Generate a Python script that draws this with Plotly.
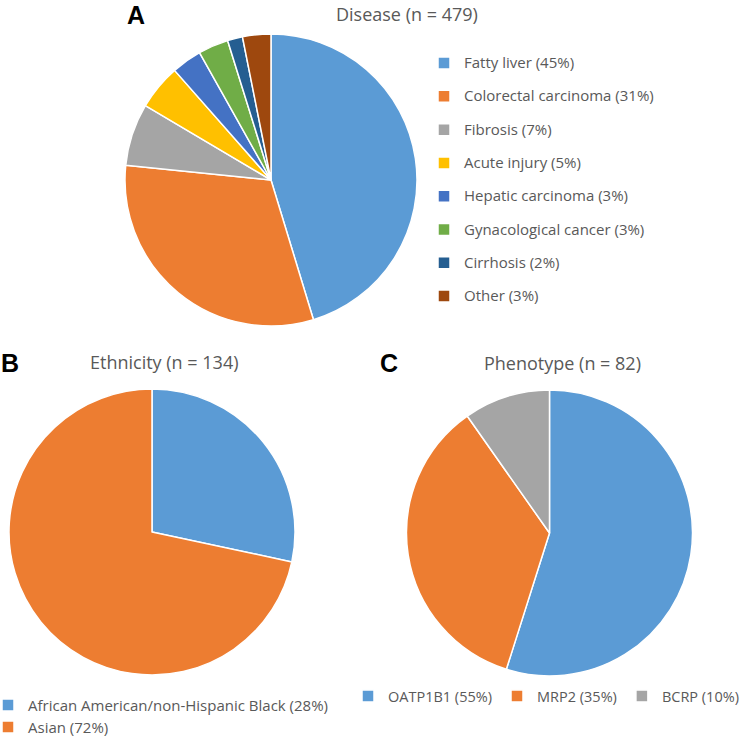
import plotly.graph_objects as go

# ---------------- data ----------------
disease_labels = ["Fatty liver (45%)", "Colorectal carcinoma (31%)", "Fibrosis (7%)",
                  "Acute injury (5%)", "Hepatic carcinoma (3%)", "Gynacological cancer (3%)",
                  "Cirrhosis (2%)", "Other (3%)"]
disease_counts = [217, 150, 33, 24, 16, 16, 8, 15]
disease_colors = ["#5B9BD5", "#ED7D31", "#A5A5A5", "#FFC000",
                  "#4472C4", "#70AD47", "#255E91", "#9E480E"]

ethnicity_labels = ["African American/non-Hispanic Black (28%)", "Asian (72%)"]
ethnicity_counts = [38, 96]
ethnicity_colors = ["#5B9BD5", "#ED7D31"]

phenotype_labels = ["OATP1B1 (55%)", "MRP2 (35%)", "BCRP (10%)"]
phenotype_counts = [45, 29, 8]
phenotype_colors = ["#5B9BD5", "#ED7D31", "#A5A5A5"]

titles = ["Disease (n = 479)", "Ethnicity (n = 134)", "Phenotype (n = 82)"]
panel_letters = ["A", "B", "C"]

# ---------------- styling ----------------
W, H = 743, 737
FONT = "Open Sans"
TXT = "#595959"
LEG_SIZE = 15


def lab(s, shift):
    return f'<span style="font-size:{LEG_SIZE}px;baseline-shift:{shift}px">{s}</span>'


def px_x(x):
    return x / W


def px_y(y):
    return 1 - y / H


fig = go.Figure()

fig.add_trace(go.Pie(
    labels=[lab(s, 3.8) for s in disease_labels], values=disease_counts,
    marker=dict(colors=disease_colors, line=dict(color="white", width=1.5)),
    sort=False, direction="clockwise", rotation=0, textinfo="none",
    domain=dict(x=[px_x(125), px_x(417)], y=[px_y(326), px_y(34)]),
    legend="legend", hoverinfo="label+value",
))
fig.add_trace(go.Pie(
    labels=[lab(s, 0.5) for s in ethnicity_labels], values=ethnicity_counts,
    marker=dict(colors=ethnicity_colors, line=dict(color="white", width=1.5)),
    sort=False, direction="clockwise", rotation=0, textinfo="none",
    domain=dict(x=[px_x(9), px_x(295)], y=[px_y(675), px_y(389)]),
    legend="legend2", hoverinfo="label+value",
))
fig.add_trace(go.Pie(
    labels=phenotype_labels, values=phenotype_counts,
    marker=dict(colors=phenotype_colors, line=dict(color="white", width=1.5)),
    sort=False, direction="clockwise", rotation=0, textinfo="none",
    domain=dict(x=[px_x(406), px_x(693)], y=[px_y(676), px_y(390)]),
    legend="legend3", hoverinfo="label+value",
))

legend_common = dict(bgcolor="rgba(0,0,0,0)", borderwidth=0, itemwidth=30,
                     xanchor="left", yanchor="top")

fig.update_layout(
    width=W, height=H, autosize=False,
    margin=dict(l=0, r=0, t=0, b=0, autoexpand=False),
    paper_bgcolor="white", plot_bgcolor="white",
    font=dict(family=FONT, color=TXT),
    showlegend=True,
    legend=dict(**legend_common, orientation="v",
                x=px_x(424), y=px_y(41.4),
                font=dict(family=FONT, size=23.3, color=TXT)),
    legend2=dict(**legend_common, orientation="v",
                 x=-12 / W, y=px_y(689),
                 font=dict(family=FONT, size=14.6, color=TXT)),
    legend3=dict(**legend_common, orientation="h",
                 x=px_x(348), y=px_y(680),
                 font=dict(family=FONT, size=14.5, color=TXT)),
)

# titles
title_pos = [(407, 0), (164, 362), (562, 363)]
for i, (t, (x, y)) in enumerate(zip(titles, title_pos)):
    fig.add_annotation(text=t, x=px_x(x), y=px_y(y), xref="paper", yref="paper",
                       xanchor="center", yanchor="top" if i == 0 else "middle",
                       showarrow=False,
                       font=dict(family=FONT, size=18, color=TXT))

letter_pos = [(136, 15), (10, 363), (389, 363)]
for t, (x, y) in zip(panel_letters, letter_pos):
    fig.add_annotation(text=f"<b>{t}</b>", x=px_x(x), y=px_y(y), xref="paper", yref="paper",
                       xanchor="center", yanchor="middle", showarrow=False,
                       font=dict(family="Liberation Sans", size=25, color="black"))

fig.write_html("out.html", config={"displayModeBar": False},
               post_script="document.body.style.margin='0';document.body.style.overflow='hidden';")
